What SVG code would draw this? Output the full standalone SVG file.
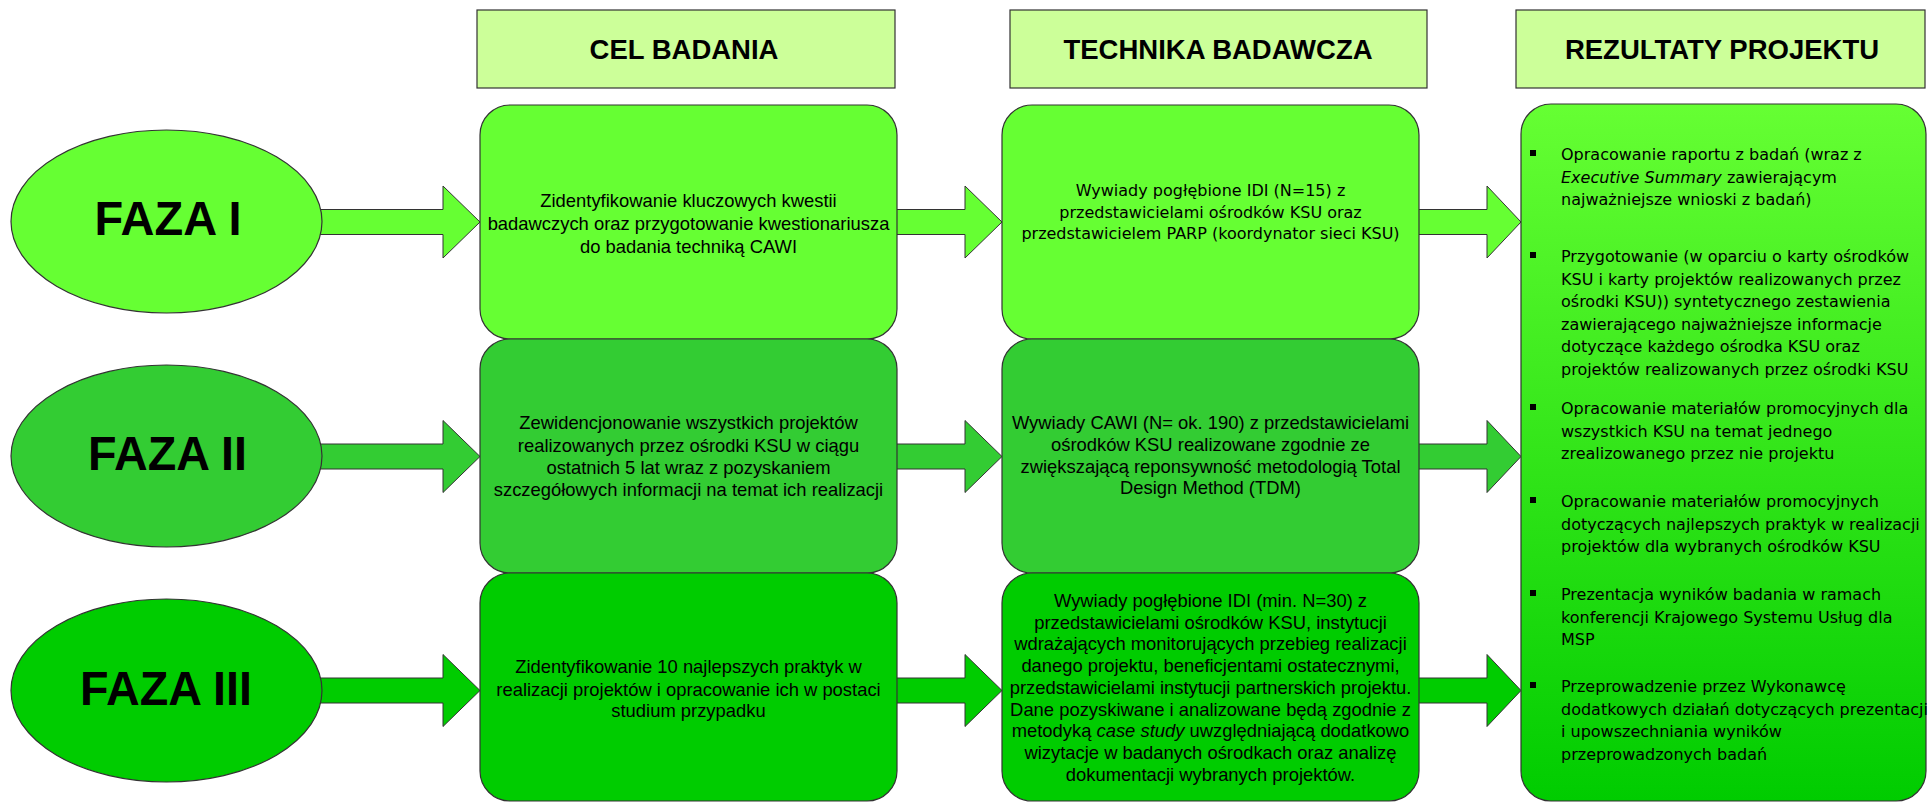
<svg xmlns="http://www.w3.org/2000/svg" width="1928" height="804" viewBox="0 0 1928 804">
<defs>
<linearGradient id="gRes" x1="0" y1="0" x2="0" y2="1">
<stop offset="0" stop-color="#66FF33"/>
<stop offset="1" stop-color="#00CC00"/>
</linearGradient>
<style>
.hdr{fill:#CCFF99;stroke:#333;stroke-width:1.2}
.htx{font-family:"Liberation Sans",Arial,sans-serif;font-weight:bold;font-size:27.5px;fill:#000;text-anchor:middle}
.ell{stroke:#333;stroke-width:1.2}
.faza{font-family:"Liberation Sans",Arial,sans-serif;font-weight:bold;font-size:48px;fill:#000;text-anchor:middle}
.box{stroke:#333;stroke-width:1.2}
.r1{fill:#66FF33}
.r2{fill:#33CC33}
.r3{fill:#00CC00}
.arr{stroke:#333;stroke-width:1}
.ta{font-family:"Liberation Sans",Arial,sans-serif;font-size:18.4px;fill:#000;text-anchor:middle}
.tt{font-family:"DejaVu Sans",Verdana,sans-serif;font-size:16px;fill:#000}
.mid{text-anchor:middle}
.bul{fill:#000}
</style>
</defs>

<g id="connectors">
<polygon class="arr r1" points="300,209.5 443,209.5 443,186 480,222 443,258 443,234.5 300,234.5"/>
<polygon class="arr r2" points="300,444 443,444 443,420.5 480,456.5 443,492.5 443,469 300,469"/>
<polygon class="arr r3" points="300,678 443,678 443,654.5 480,690.5 443,726.5 443,703 300,703"/>
<polygon class="arr r1" points="890,209.5 965,209.5 965,186 1002,222 965,258 965,234.5 890,234.5"/>
<polygon class="arr r2" points="890,444 965,444 965,420.5 1002,456.5 965,492.5 965,469 890,469"/>
<polygon class="arr r3" points="890,678 965,678 965,654.5 1002,690.5 965,726.5 965,703 890,703"/>
<polygon class="arr r1" points="1410,209.5 1487,209.5 1487,186 1521,222 1487,258 1487,234.5 1410,234.5"/>
<polygon class="arr r2" points="1410,444 1487,444 1487,420.5 1521,456.5 1487,492.5 1487,469 1410,469"/>
<polygon class="arr r3" points="1410,678 1487,678 1487,654.5 1521,690.5 1487,726.5 1487,703 1410,703"/>
</g>

<g id="hdr-cel">
<rect class="hdr" x="477" y="10" width="418" height="78"/>
<text class="htx" x="684" y="59">CEL BADANIA</text>
</g>
<g id="hdr-technika">
<rect class="hdr" x="1010" y="10" width="417" height="78"/>
<text class="htx" x="1218" y="59">TECHNIKA BADAWCZA</text>
</g>
<g id="hdr-rezultaty">
<rect class="hdr" x="1516" y="10" width="409" height="78"/>
<text class="htx" x="1722" y="59">REZULTATY PROJEKTU</text>
</g>

<g id="faza1">
<ellipse class="ell r1" cx="166.5" cy="221.5" rx="155.5" ry="91.5"/>
<text class="faza" x="168" y="235" textLength="147" lengthAdjust="spacingAndGlyphs">FAZA I</text>
</g>
<g id="faza2">
<ellipse class="ell r2" cx="166.5" cy="456" rx="155.5" ry="91"/>
<text class="faza" x="167.5" y="470" textLength="159" lengthAdjust="spacingAndGlyphs">FAZA II</text>
</g>
<g id="faza3">
<ellipse class="ell r3" cx="166.5" cy="690.5" rx="155.5" ry="91.5"/>
<text class="faza" x="166" y="705" textLength="172" lengthAdjust="spacingAndGlyphs">FAZA III</text>
</g>

<g id="cel1">
<rect class="box r1" x="480" y="105" width="417" height="234" rx="30" ry="30"/>
<text class="ta" x="688.5" y="207">Zidentyfikowanie kluczowych kwestii</text>
<text class="ta" x="688.5" y="229.5">badawczych oraz przygotowanie kwestionariusza</text>
<text class="ta" x="688.5" y="252.5">do badania techniką CAWI</text>
</g>
<g id="cel2">
<rect class="box r2" x="480" y="339" width="417" height="234" rx="30" ry="30"/>
<text class="ta" x="688.5" y="429">Zewidencjonowanie wszystkich projektów</text>
<text class="ta" x="688.5" y="451.5">realizowanych przez ośrodki KSU w ciągu</text>
<text class="ta" x="688.5" y="474">ostatnich 5 lat wraz z pozyskaniem</text>
<text class="ta" x="688.5" y="496">szczegółowych informacji na temat ich realizacji</text>
</g>
<g id="cel3">
<rect class="box r3" x="480" y="573" width="417" height="228" rx="30" ry="30"/>
<text class="ta" x="688.5" y="673">Zidentyfikowanie 10 najlepszych praktyk w</text>
<text class="ta" x="688.5" y="695.5">realizacji projektów i opracowanie ich w postaci</text>
<text class="ta" x="688.5" y="717">studium przypadku</text>
</g>

<g id="tech1">
<rect class="box r1" x="1002" y="105" width="417" height="234" rx="30" ry="30"/>
<text class="tt mid" x="1210.5" y="196">Wywiady pogłębione IDI (N=15) z</text>
<text class="tt mid" x="1210.5" y="217.5">przedstawicielami ośrodków KSU oraz</text>
<text class="tt mid" x="1210.5" y="239">przedstawicielem PARP (koordynator sieci KSU)</text>
</g>
<g id="tech2">
<rect class="box r2" x="1002" y="339" width="417" height="234" rx="30" ry="30"/>
<text class="ta" x="1210.5" y="429">Wywiady CAWI (N= ok. 190) z przedstawicielami</text>
<text class="ta" x="1210.5" y="451">ośrodków KSU realizowane zgodnie ze</text>
<text class="ta" x="1210.5" y="472.5">zwiększającą reponsywność metodologią Total</text>
<text class="ta" x="1210.5" y="494">Design Method (TDM)</text>
</g>
<g id="tech3">
<rect class="box r3" x="1002" y="573" width="417" height="228" rx="30" ry="30"/>
<text class="ta" x="1210.5" y="607">Wywiady pogłębione IDI (min. N=30) z</text>
<text class="ta" x="1210.5" y="628.7">przedstawicielami ośrodków KSU, instytucji</text>
<text class="ta" x="1210.5" y="650.4">wdrażających monitorujących przebieg realizacji</text>
<text class="ta" x="1210.5" y="672.1">danego projektu, beneficjentami ostatecznymi,</text>
<text class="ta" x="1210.5" y="693.8">przedstawicielami instytucji partnerskich projektu.</text>
<text class="ta" x="1210.5" y="715.5">Dane pozyskiwane i analizowane będą zgodnie z</text>
<text class="ta" x="1210.5" y="737.2">metodyką <tspan font-style="italic">case study</tspan> uwzględniającą dodatkowo</text>
<text class="ta" x="1210.5" y="758.9">wizytacje w badanych ośrodkach oraz analizę</text>
<text class="ta" x="1210.5" y="780.6">dokumentacji wybranych projektów.</text>
</g>

<g id="rezultaty">
<rect class="box" fill="url(#gRes)" x="1521" y="104" width="405" height="697" rx="30" ry="30"/>
<rect class="bul" x="1530" y="150" width="6" height="6"/>
<text class="tt" x="1561" y="160">Opracowanie raportu z badań (wraz z</text>
<text class="tt" x="1561" y="182.5"><tspan font-style="italic">Executive Summary</tspan> zawierającym</text>
<text class="tt" x="1561" y="205">najważniejsze wnioski z badań)</text>
<rect class="bul" x="1530" y="252" width="6" height="6"/>
<text class="tt" x="1561" y="262">Przygotowanie (w oparciu o karty ośrodków</text>
<text class="tt" x="1561" y="284.5">KSU i karty projektów realizowanych przez</text>
<text class="tt" x="1561" y="307">ośrodki KSU)) syntetycznego zestawienia</text>
<text class="tt" x="1561" y="329.5">zawierającego najważniejsze informacje</text>
<text class="tt" x="1561" y="352">dotyczące każdego ośrodka KSU oraz</text>
<text class="tt" x="1561" y="374.5">projektów realizowanych przez ośrodki KSU</text>
<rect class="bul" x="1530" y="404" width="6" height="6"/>
<text class="tt" x="1561" y="414">Opracowanie materiałów promocyjnych dla</text>
<text class="tt" x="1561" y="436.5">wszystkich KSU na temat jednego</text>
<text class="tt" x="1561" y="459">zrealizowanego przez nie projektu</text>
<rect class="bul" x="1530" y="497" width="6" height="6"/>
<text class="tt" x="1561" y="507">Opracowanie materiałów promocyjnych</text>
<text class="tt" x="1561" y="529.5">dotyczących najlepszych praktyk w realizacji</text>
<text class="tt" x="1561" y="552">projektów dla wybranych ośrodków KSU</text>
<rect class="bul" x="1530" y="590" width="6" height="6"/>
<text class="tt" x="1561" y="600">Prezentacja wyników badania w ramach</text>
<text class="tt" x="1561" y="622.5">konferencji Krajowego Systemu Usług dla</text>
<text class="tt" x="1561" y="645">MSP</text>
<rect class="bul" x="1530" y="682" width="6" height="6"/>
<text class="tt" x="1561" y="692">Przeprowadzenie przez Wykonawcę</text>
<text class="tt" x="1561" y="714.5">dodatkowych działań dotyczących prezentacji</text>
<text class="tt" x="1561" y="737">i upowszechniania wyników</text>
<text class="tt" x="1561" y="759.5">przeprowadzonych badań</text>
</g>
</svg>
